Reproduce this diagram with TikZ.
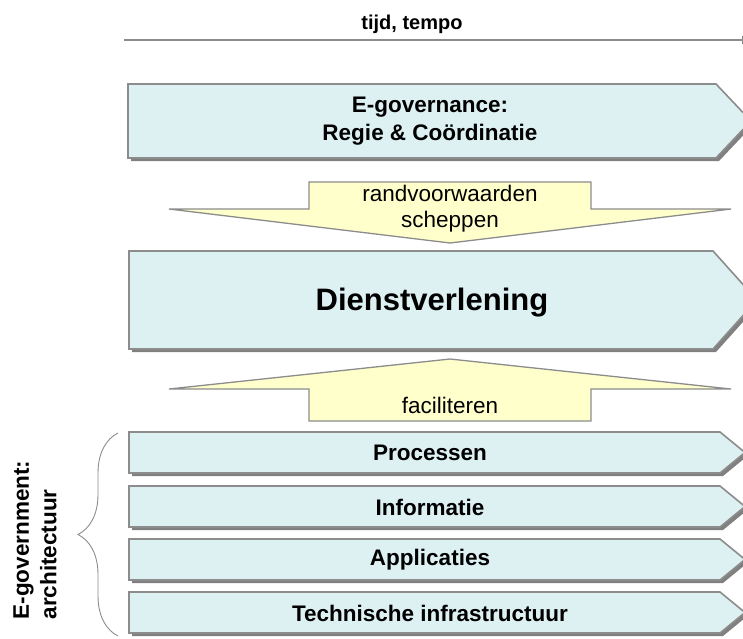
\documentclass[tikz,border=0pt]{standalone}
\usepackage{fontspec}
\setmainfont{Liberation Sans}
\usetikzlibrary{arrows.meta,decorations.pathreplacing,shadows}

\definecolor{panelfill}{RGB}{221,240,242}
\definecolor{notefill}{RGB}{255,255,204}
\definecolor{edgegray}{RGB}{140,140,140}
\definecolor{shadowgray}{RGB}{128,128,128}

\tikzset{
  band/.style={fill=panelfill, draw=edgegray, line width=1.6pt, line join=miter,
    drop shadow={shadow xshift=3pt, shadow yshift=-3pt, fill=shadowgray, opacity=1}},
  notearrow/.style={fill=notefill, draw=edgegray, line width=1.3pt, line join=miter},
  bandlabel/.style={font=\fontsize{22.5}{27.5}\selectfont\bfseries, align=center, inner sep=0pt},
  notelabel/.style={font=\fontsize{22.5}{26}\selectfont, align=center, inner sep=0pt},
}

\begin{document}
\begin{tikzpicture}[x=1pt,y=-1pt]
\useasboundingbox (0,0) rectangle (743,638);
\clip (0,0) rectangle (743,638);

% time axis
\coordinate (tstart) at (124,40);
\coordinate (tend) at (753,40);
\draw[edgegray, line width=1.6pt, -{Latex[length=11pt,width=9pt]}] (tstart) -- (tend);
\node[font=\fontsize{20}{24}\selectfont\bfseries, inner sep=0pt] (tempo) at (412,24) {tijd, tempo};

% governance layer
\path[band] (128,84) -- (716,84) -- (751,121) -- (716,158) -- (128,158) -- cycle;
\node[bandlabel] (gov) at (430,121) {E-governance:\\Regie \& Coördinatie};

% downward arrow
\path[notearrow] (309,182) -- (591,182) -- (591,209) -- (731,209) -- (450,243)
  -- (169,209) -- (309,209) -- cycle;
\node[notelabel] (cond) at (450,209) {randvoorwaarden\\scheppen};

% service layer
\path[band] (129,251) -- (713,251) -- (757,300) -- (713,349) -- (129,349) -- cycle;
\node[font=\fontsize{31}{36}\selectfont\bfseries, inner sep=0pt] (dienst) at (432,303) {Dienstverlening};

% upward arrow
\path[notearrow] (450,359) -- (731,389) -- (591,389) -- (591,421) -- (309,421)
  -- (309,389) -- (169,389) -- cycle;
\node[notelabel] (fac) at (450,405) {faciliteren};

% architecture layers
\path[band] (129,432) -- (720,432) -- (745,452.5) -- (720,473) -- (129,473) -- cycle;
\node[bandlabel] (proc) at (430,453) {Processen};
\path[band] (129,486) -- (720,486) -- (745,506.5) -- (720,527) -- (129,527) -- cycle;
\node[bandlabel] (info) at (430,507) {Informatie};
\path[band] (129,539) -- (720,539) -- (745,559.5) -- (720,580) -- (129,580) -- cycle;
\node[bandlabel] (appl) at (430,560) {Applicaties};
\path[band] (129,592) -- (720,592) -- (745,612.5) -- (720,633) -- (129,633) -- cycle;
\node[bandlabel] (tech) at (430,613) {Technische infrastructuur};

% brace and side label
\coordinate (bbot) at (118,636);
\coordinate (btop) at (118,433);
\draw[edgegray, line width=0.9pt, decorate, decoration={brace, amplitude=40pt}] (bbot) -- (btop);
\node[bandlabel, align=left, rotate=90] (arch) at (35,540) {E-government:\\architectuur};
\end{tikzpicture}
\end{document}
